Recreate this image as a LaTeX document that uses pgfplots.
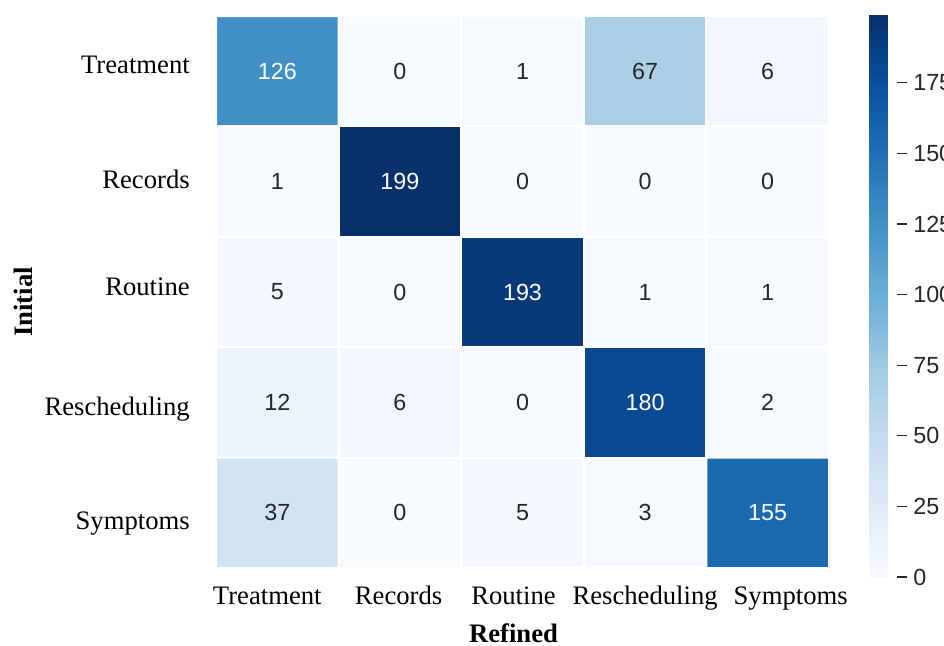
\documentclass[border=0pt]{standalone}
\usepackage{fontspec}
\setmainfont{Liberation Serif}
\newfontfamily\arial{Liberation Sans}
\usepackage{pgfplots}
\pgfplotsset{compat=1.18}
\usepackage{pgfplotstable}

\definecolor{txtgray}{HTML}{262626}

% ColorBrewer "Blues" (9 classes)
\pgfplotsset{colormap={seabornblues}{
  rgb255(0cm)=(247,251,255) rgb255(1cm)=(222,235,247) rgb255(2cm)=(198,219,239)
  rgb255(3cm)=(158,202,225) rgb255(4cm)=(107,174,214) rgb255(5cm)=(66,146,198)
  rgb255(6cm)=(33,113,181)  rgb255(7cm)=(8,81,156)    rgb255(8cm)=(8,48,107)}}

% confusion matrix: x = refined class, y = initial class
\pgfplotstableread{
x y v
0 0 126
1 0 0
2 0 1
3 0 67
4 0 6
0 1 1
1 1 199
2 1 0
3 1 0
4 1 0
0 2 5
1 2 0
2 2 193
3 2 1
4 2 1
0 3 12
1 3 6
2 3 0
3 3 180
4 3 2
0 4 37
1 4 0
2 4 5
3 4 3
4 4 155
}\confmat

% shift a tick label sideways without changing its box
\newcommand\sh[2]{\hspace*{#1}#2\hspace*{\dimexpr-#1\relax}}

\pgfplotsset{
  cell label/.style={draw=none, point meta=\thisrow{v},
    nodes near coords={\pgfmathprintnumber{\pgfplotspointmeta}},
    every node near coord/.append style={font=\arial\fontsize{17.5pt}{21pt}\selectfont,
      anchor=center, text=#1}},
}

\begin{document}
\begin{tikzpicture}
\begin{axis}[
  at={(162pt,57.75pt)}, anchor=south west,
  scale only axis, width=459.75pt, height=414pt,
  xmin=-0.5, xmax=4.5, ymin=-0.5, ymax=4.5,
  y dir=reverse,
  axis line style={draw=none},
  xtick={0,...,4}, ytick={0,...,4},
  xticklabels={\sh{-7.5pt}{Treatment},\sh{-1pt}{Records},\sh{-6.75pt}{Routine},Rescheduling,\sh{17.25pt}{Symptoms}},
  yticklabels={\raisebox{-1.5pt}{Treatment},\raisebox{-4.8pt}{Records},\raisebox{-2.25pt}{Routine},\raisebox{-9.45pt}{Rescheduling},\raisebox{-12.75pt}{Symptoms}},
  major tick length=0pt,
  tick label style={font=\fontsize{20pt}{24pt}\selectfont, text=black},
  xticklabel style={anchor=base, yshift=-27pt},
  yticklabel style={anchor=base east, inner sep=0pt, xshift=-19.5pt},
  xlabel={Refined}, ylabel={Initial},
  label style={font=\fontsize{20pt}{24pt}\selectfont\bfseries},
  xlabel style={at={(axis description cs:0.5,0)}, anchor=base, yshift=-55.5pt, xshift=-6.75pt},
  ylabel style={at={(axis description cs:-0.30016,0.4819)}, anchor=base},
  /pgf/number format/assume math mode=true,
  colormap name=seabornblues,
  point meta min=0, point meta max=199,
  colorbar,
  colorbar shift/.style={},
  colorbar style={
    at={(parent axis.north east)}, anchor=north west,
    xshift=30pt, yshift=0.75pt,
    width=21pt, height=421.5pt,
    axis line style={draw=none},
    ytick={0,25,...,175},
    yticklabel pos=right, ytick pos=right,
    tick align=outside,
    major tick length=7.5pt,
    tick style={color=txtgray, line width=1pt},
    yticklabel style={font=\arial\fontsize{17.5pt}{21pt}\selectfont, text=txtgray, inner sep=0pt, xshift=4.5pt},
    /pgf/number format/assume math mode=true,
  },
]
\addplot[matrix plot*, mesh/cols=5, mesh/ordering=x varies,
  point meta=explicit, draw=white, line width=1.5pt]
  table[x=x, y=y, meta=v] {\confmat};
% counts on light cells in dark grey, on dark cells in white
\addplot[cell label=txtgray, restrict expr to domain={\thisrow{v}}{0:100}]
  table[x=x, y=y] {\confmat};
\addplot[cell label=white, restrict expr to domain={\thisrow{v}}{101:1000}]
  table[x=x, y=y] {\confmat};
\end{axis}
\pgfresetboundingbox
\useasboundingbox (0,0) rectangle (708pt,483.75pt);
\end{tikzpicture}
\end{document}
